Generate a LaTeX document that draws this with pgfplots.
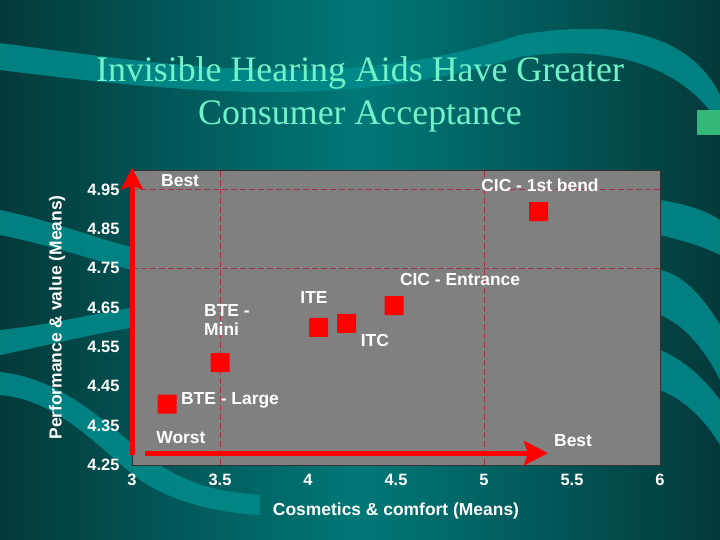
\documentclass[border=0pt]{standalone}
\usepackage{fontspec}
\setmainfont{Liberation Sans}
\newfontfamily\titlefont{Liberation Serif}
\usepackage{pgfplots}
\pgfplotsset{compat=1.18}
\usetikzlibrary{arrows.meta}

\definecolor{bgdark}{HTML}{04393A}
\definecolor{bgmid}{HTML}{007878}
\definecolor{band}{HTML}{008C8C}
\definecolor{plotgray}{HTML}{808080}
\definecolor{titlecol}{HTML}{72F2C8}
\definecolor{gridred}{HTML}{A03445}

% rounded square marker
\pgfdeclareplotmark{rsq}{%
  \pgfsetcornersarced{\pgfpoint{0.3\pgfplotmarksize}{0.3\pgfplotmarksize}}%
  \pgfpathmoveto{\pgfpoint{0pt}{-\pgfplotmarksize}}%
  \pgfpathlineto{\pgfpoint{\pgfplotmarksize}{-\pgfplotmarksize}}%
  \pgfpathlineto{\pgfpoint{\pgfplotmarksize}{\pgfplotmarksize}}%
  \pgfpathlineto{\pgfpoint{-\pgfplotmarksize}{\pgfplotmarksize}}%
  \pgfpathlineto{\pgfpoint{-\pgfplotmarksize}{-\pgfplotmarksize}}%
  \pgfpathclose
  \pgfusepathqfill}

\newcommand{\lab}{\fontsize{17.5}{19}\selectfont\bfseries}
\newcommand{\tlab}{\fontsize{16.5}{18}\selectfont\bfseries}

\begin{document}
\begin{tikzpicture}[x=1bp,y=1bp]
% background
\shade[left color=bgdark, right color=bgdark, middle color=bgmid] (0,0) rectangle (720,540);
% decorative bands
\fill[band, opacity=0.85] (0,497) .. controls (200,470) and (350,450) .. (520,505)
  .. controls (620,522) and (690,505) .. (720,445) -- (720,415)
  .. controls (680,480) and (600,495) .. (520,483)
  .. controls (350,432) and (200,445) .. (0,470) -- cycle;
\fill[band, opacity=0.85] (0,330) .. controls (50,320) and (100,300) .. (132,293) -- (132,270)
  .. controls (100,278) and (50,295) .. (0,305) -- cycle;
\fill[band, opacity=0.85] (0,210) .. controls (50,215) and (100,228) .. (132,232) -- (132,212)
  .. controls (100,208) and (50,195) .. (0,185) -- cycle;
\fill[band, opacity=0.85] (0,168) .. controls (70,160) and (110,110) .. (160,75)
  .. controls (190,55) and (220,48) .. (260,45) -- (260,25)
  .. controls (210,28) and (170,40) .. (140,60)
  .. controls (100,90) and (60,140) .. (0,145) -- cycle;
\fill[band, opacity=0.85] (660,340) .. controls (685,336) and (705,330) .. (720,320) -- (720,285)
  .. controls (700,295) and (680,300) .. (660,305) -- cycle;
\fill[band, opacity=0.85] (660,270) .. controls (685,265) and (705,240) .. (720,215) -- (720,160)
  .. controls (705,190) and (685,215) .. (660,225) -- cycle;
\fill[band, opacity=0.85] (660,190) .. controls (685,180) and (705,160) .. (720,140) -- (720,95)
  .. controls (705,120) and (685,140) .. (660,150) -- cycle;
\fill[teal!70!green!80!white] (697,405) rectangle (720,430);

% title
\node[titlecol, font=\titlefont\fontsize{36}{43}\selectfont] at (360,467) {Invisible Hearing Aids Have Greater};
\node[titlecol, font=\titlefont\fontsize{36}{43}\selectfont] at (360,424) {Consumer Acceptance};

\begin{axis}[
  at={(132bp,75bp)}, anchor=south west,
  scale only axis, width=528bp, height=295bp,
  xmin=3, xmax=6, ymin=4.25, ymax=5.0,
  xtick={3,3.5,4,4.5,5,5.5,6},
  ytick={4.25,4.35,4.45,4.55,4.65,4.75,4.85,4.95},
  yticklabels={4.25,4.35,4.45,4.55,4.65,4.75,4.85,4.95},
  extra x ticks={3.5,5}, extra x tick labels={},
  extra y ticks={4.75,4.95}, extra y tick labels={},
  extra tick style={grid=major, major grid style={gridred, dash pattern=on 6bp off 3bp, line width=0.6bp}},
  major tick length=0pt,
  axis background/.style={fill=plotgray},
  axis line style={draw=black!80, line width=0.8pt},
  tick label style={font=\tlab, white},
  /pgf/number format/assume math mode=true,
  yticklabel style={xshift=-9bp},
  xticklabel style={yshift=-6bp},
  clip=false,
]
\addplot[only marks, mark=rsq, mark size=9.5bp, red] coordinates {
  (5.31,4.894) (4.49,4.655) (4.06,4.60) (4.22,4.61) (3.50,4.51) (3.20,4.405)
};
% Best / Worst arrows
\draw[red, line width=5bp, -{Stealth[length=22bp, width=22bp, inset=4bp]}]
  (axis cs:3.0,4.275) -- (axis cs:3.0,5.006);
\draw[red, line width=5bp, -{Stealth[length=24bp, width=24bp, inset=4bp]}]
  (axis cs:3.074,4.28) -- (axis cs:5.364,4.28);

\node[white, font=\lab, anchor=west, inner sep=0] at (axis cs:3.165,4.972) {Best};
\node[white, font=\lab, inner sep=0] at (axis cs:5.318,4.962) {CIC - 1st bend};
\node[white, font=\lab, inner sep=0] at (axis cs:4.864,4.721) {CIC - Entrance};
\node[white, font=\lab, inner sep=0] at (axis cs:4.034,4.677) {ITE};
\node[white, font=\lab, anchor=west, align=left, inner sep=0] at (axis cs:3.409,4.619) {BTE -\\Mini};
\node[white, font=\lab, inner sep=0] at (axis cs:4.38,4.566) {ITC};
\node[white, font=\lab, inner sep=0] at (axis cs:3.557,4.415) {BTE - Large};
\node[white, font=\lab, inner sep=0] at (axis cs:3.278,4.319) {Worst};
\node[white, font=\lab, inner sep=0] at (axis cs:5.506,4.311) {Best};

\node[white, font=\lab, inner sep=0] at ([yshift=-46bp]rel axis cs:0.5,0) {Cosmetics \& comfort (Means)};
\node[white, font=\lab, inner sep=0, rotate=90] at ([xshift=-75bp]rel axis cs:0,0.5) {Performance \& value (Means)};
\end{axis}
\pgfresetboundingbox
\useasboundingbox (0,0) rectangle (720,540);
\end{tikzpicture}
\end{document}
